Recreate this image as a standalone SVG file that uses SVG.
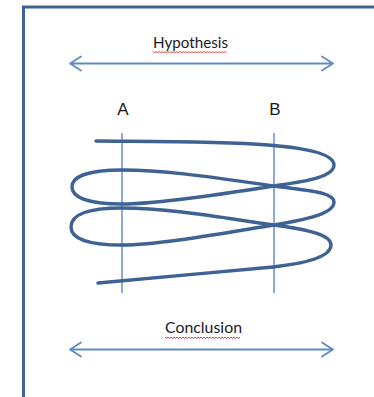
<svg xmlns="http://www.w3.org/2000/svg" width="374" height="397" viewBox="0 0 374 397">
<style>
.lbl{font-family:Lato,"Open Sans","Liberation Sans",sans-serif;font-size:14.5px;fill:#1a1a2a}
.ab{font-family:"Liberation Sans",Arial,sans-serif;font-size:17px;fill:#1a1a1a}
.arr{stroke:#5f8cc6;stroke-width:1.8;fill:none;stroke-linecap:round;stroke-linejoin:round}
.vl{stroke:#4a7fcc;stroke-width:1.3;fill:none}
.sq{stroke:#e02020;stroke-width:0.9;fill:none}
</style>
<rect width="374" height="397" fill="#ffffff"/>
<g id="frame">
<rect x="23.5" y="7" width="400" height="420" fill="none" stroke="#3f6294" stroke-width="3"/>
</g>
<g id="hypothesis">
<text class="lbl" x="153" y="47.5" textLength="75" lengthAdjust="spacingAndGlyphs">Hypothesis</text>
<path class="sq" d="M153,51.5 l1.5,1.5 l1.5,-1.5 l1.5,1.5 l1.5,-1.5 l1.5,1.5 l1.5,-1.5 l1.5,1.5 l1.5,-1.5 l1.5,1.5 l1.5,-1.5 l1.5,1.5 l1.5,-1.5 l1.5,1.5 l1.5,-1.5 l1.5,1.5 l1.5,-1.5 l1.5,1.5 l1.5,-1.5 l1.5,1.5 l1.5,-1.5 l1.5,1.5 l1.5,-1.5 l1.5,1.5 l1.5,-1.5 l1.5,1.5 l1.5,-1.5 l1.5,1.5 l1.5,-1.5 l1.5,1.5 l1.5,-1.5 l1.5,1.5 l1.5,-1.5 l1.5,1.5 l1.5,-1.5 l1.5,1.5 l1.5,-1.5 l1.5,1.5 l1.5,-1.5 l1.5,1.5 l1.5,-1.5 l1.5,1.5 l1.5,-1.5 l1.5,1.5 l1.5,-1.5 l1.5,1.5 l1.5,-1.5 l1.5,1.5 l1.5,-1.5 l1.5,1.5"/>
</g>
<g id="conclusion">
<text class="lbl" x="165" y="333" textLength="77" lengthAdjust="spacingAndGlyphs">Conclusion</text>
<path class="sq" d="M165,337 l1.5,1.5 l1.5,-1.5 l1.5,1.5 l1.5,-1.5 l1.5,1.5 l1.5,-1.5 l1.5,1.5 l1.5,-1.5 l1.5,1.5 l1.5,-1.5 l1.5,1.5 l1.5,-1.5 l1.5,1.5 l1.5,-1.5 l1.5,1.5 l1.5,-1.5 l1.5,1.5 l1.5,-1.5 l1.5,1.5 l1.5,-1.5 l1.5,1.5 l1.5,-1.5 l1.5,1.5 l1.5,-1.5 l1.5,1.5 l1.5,-1.5 l1.5,1.5 l1.5,-1.5 l1.5,1.5 l1.5,-1.5 l1.5,1.5 l1.5,-1.5 l1.5,1.5 l1.5,-1.5 l1.5,1.5 l1.5,-1.5 l1.5,1.5 l1.5,-1.5 l1.5,1.5 l1.5,-1.5 l1.5,1.5 l1.5,-1.5 l1.5,1.5 l1.5,-1.5 l1.5,1.5 l1.5,-1.5 l1.5,1.5 l1.5,-1.5 l1.5,1.5 l1.5,-1.5"/>
</g>
<g id="labelA"><text class="ab" x="123" y="115" text-anchor="middle">A</text></g>
<g id="labelB"><text class="ab" x="275" y="115" text-anchor="middle">B</text></g>
<g id="connectors">
<path class="arr" d="M70,63.5 H333 M81,56.5 L70,63.5 L81,70.5 M322,56.5 L333,63.5 L322,70.5"/>
<path class="arr" d="M70,349.5 H333 M81,342.5 L70,349.5 L81,356.5 M322,342.5 L333,349.5 L322,356.5"/>
<path class="vl" d="M122,133 V293 M274,133 V293"/>
<path id="coil" fill="none" stroke="#3f6294" stroke-width="3.4" stroke-linecap="round" d="M96,141 C200,142 334,140 334,165 C334,178 300,182 274,186 C230,193 160,204 122,204 C90,204 72,198 72,187 C72,176 90,170 122,170 C170,170 230,180 274,186 C310,191 334,192 334,202 C334,213 310,219 274,225 C230,232 160,245 122,245 C90,245 71,239 71,227 C71,214 90,208 122,208 C170,208 230,219 274,225 C310,230 331,235 331,245 C331,258 300,264 273,267 C220,272 140,279 98,283"/>
</g>
</svg>
